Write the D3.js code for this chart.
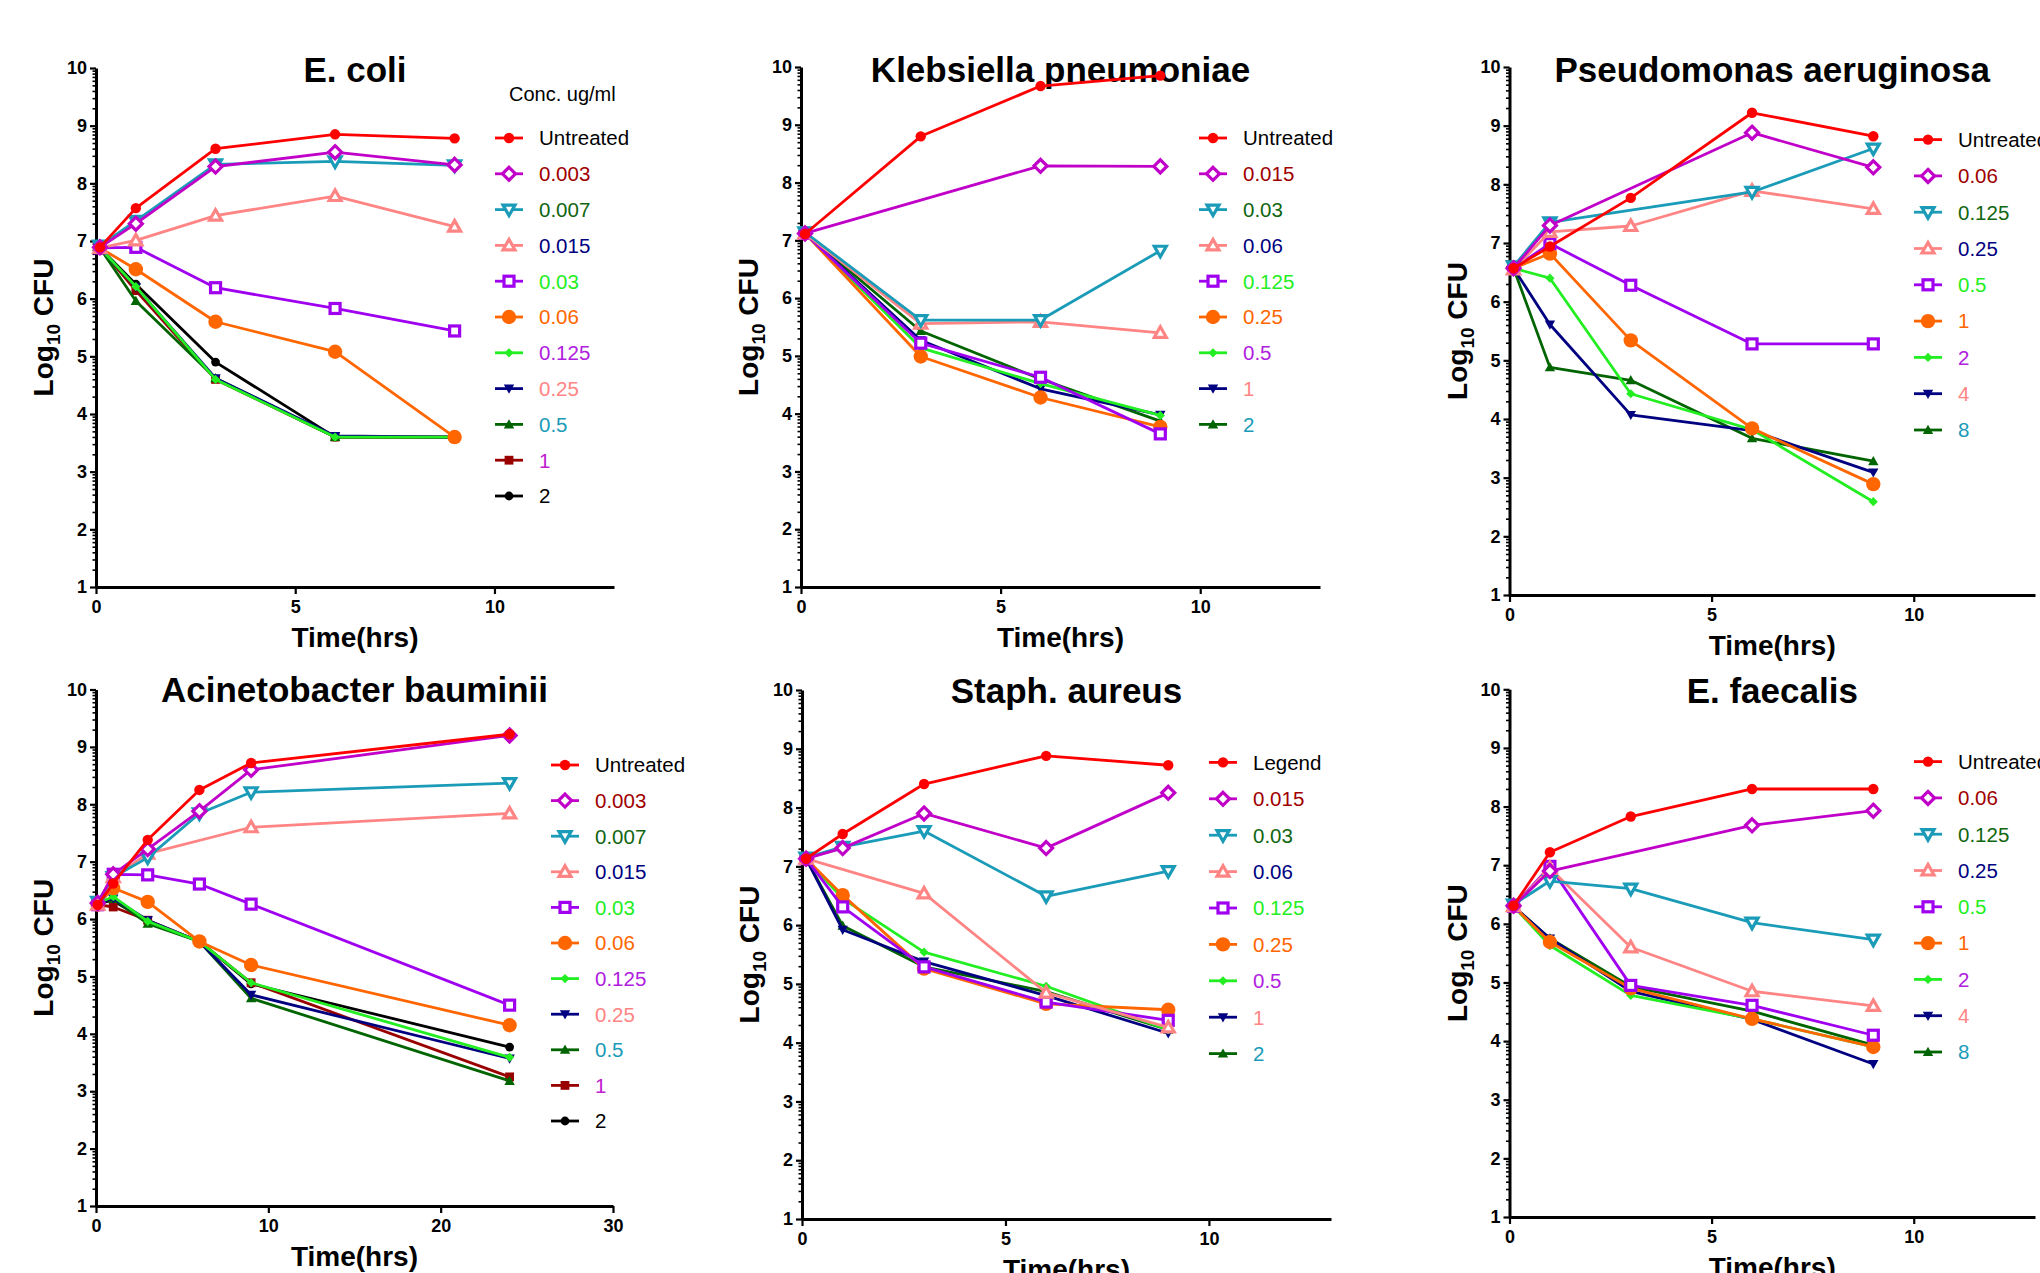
<!DOCTYPE html>
<html>
<head>
<meta charset="utf-8">
<script src="https://cdnjs.cloudflare.com/ajax/libs/d3/7.8.5/d3.min.js"></script>
<style>
  body { margin: 0; background: #fff; }
  svg { display: block; }
  text { font-family: "Liberation Sans", Arial, Helvetica, sans-serif; }
</style>
</head>
<body>
<div id="viz"></div>
<script>

// ---- data ----
var lineColors  = ['#ff0000', '#c000c8', '#1a9bb8', '#ff8585', '#a000f0', '#ff6600', '#22ee22', '#000080', '#006400', '#990000', '#000000'];
var labelColors = ['#000000', '#a00000', '#116611', '#000080', '#22ee22', '#ff6600', '#b020e0', '#ff8585', '#1a9bb8', '#c020d0', '#000000'];
var markers     = ['circle', 'diamondOpen', 'triDownOpen', 'triUpOpen', 'squareOpen', 'circleBig', 'diamondSmall', 'triDown', 'triUp', 'square', 'circleSmall'];

var yTicks = [1, 2, 3, 4, 5, 6, 7, 8, 9, 10];

var ecoliTimes  = [0.1, 1, 3, 6, 9];
var ecoliLabels = ['Untreated', '0.003', '0.007', '0.015', '0.03', '0.06', '0.125', '0.25', '0.5', '1', '2'];
var ecoliValues = [
  [6.89, 7.57, 8.60, 8.85, 8.78],
  [6.89, 7.30, 8.29, 8.54, 8.32],
  [6.92, 7.35, 8.33, 8.38, 8.31],
  [6.88, 7.01, 7.44, 7.78, 7.25],
  [6.88, 6.89, 6.19, 5.83, 5.44],
  [6.88, 6.51, 5.60, 5.08, 3.60],
  [6.88, 6.21, 4.60, 3.60, 3.60],
  [6.88, 6.20, 4.62, 3.62, 3.60],
  [6.88, 5.96, 4.62, 3.60, 3.60],
  [6.88, 6.14, 4.60, 3.60, 3.60],
  [6.88, 6.25, 4.90, 3.60, 3.60]
];

var klebTimes  = [0.1, 3, 6, 9];
var klebLabels = ['Untreated', '0.015', '0.03', '0.06', '0.125', '0.25', '0.5', '1', '2'];
var klebValues = [
  [7.11, 8.80, 9.67, 9.85],
  [7.12, null, 8.29, 8.28],
  [7.14, 5.62, 5.62, 6.82],
  [7.12, 5.56, 5.59, 5.40],
  [7.12, 5.22, 4.63, 3.65],
  [7.12, 4.99, 4.28, 3.77],
  [7.12, 5.14, 4.52, 3.97],
  [7.12, 5.27, 4.43, 3.98],
  [7.12, 5.43, 4.60, 3.87]
];

var pseudoTimes  = [0.1, 1, 3, 6, 9];
var pseudoLabels = ['Untreated', '0.06', '0.125', '0.25', '0.5', '1', '2', '4', '8'];
var pseudoValues = [
  [6.57, 6.94, 7.77, 9.22, 8.82],
  [6.57, 7.30, null, 8.88, 8.29],
  [6.60, 7.35, null, 7.87, 8.61],
  [6.55, 7.19, 7.29, 7.89, 7.58],
  [6.57, 6.99, 6.28, 5.28, 5.28],
  [6.57, 6.82, 5.34, 3.84, 2.89],
  [6.57, 6.40, 4.43, 3.82, 2.59],
  [6.57, 5.61, 4.07, 3.80, 3.09],
  [6.57, 4.88, 4.66, 3.67, 3.28]
];

var acinTimes  = [0.1, 1, 3, 6, 9, 24];
var acinLabels = ['Untreated', '0.003', '0.007', '0.015', '0.03', '0.06', '0.125', '0.25', '0.5', '1', '2'];
var acinValues = [
  [6.25, 6.62, 7.38, 8.25, 8.72, 9.22],
  [6.28, 6.78, 7.22, 7.88, 8.60, 9.20],
  [6.30, 6.73, 7.07, 7.84, 8.21, 8.37],
  [6.25, 6.73, 7.14, null, 7.60, 7.84],
  [6.25, 6.78, 6.77, 6.61, 6.26, 4.50],
  [6.25, 6.54, 6.30, 5.61, 5.20, 4.15],
  [6.28, 6.39, 5.96, 5.61, 4.89, 3.59],
  [6.28, 6.36, 5.98, 5.61, 4.68, 3.57],
  [6.28, 6.35, 5.92, 5.61, 4.62, 3.18],
  [6.25, 6.21, 5.98, 5.61, 4.89, 3.25],
  [6.28, 6.32, 5.96, 5.61, 4.87, 3.77]
];

var staphTimes  = [0.1, 1, 3, 6, 9];
var staphLabels = ['Legend', '0.015', '0.03', '0.06', '0.125', '0.25', '0.5', '1', '2'];
var staphValues = [
  [7.13, 7.55, 8.40, 8.88, 8.72],
  [7.13, 7.31, 7.90, 7.31, 8.25],
  [7.15, 7.33, 7.60, 6.49, 6.92],
  [7.13, null, 6.54, 4.85, 4.26],
  [7.13, 6.31, 5.29, 4.69, 4.38],
  [7.13, 6.51, 5.26, 4.66, 4.56],
  [7.13, 6.45, 5.54, 4.96, 4.22],
  [7.13, 5.92, 5.38, 4.80, 4.16],
  [7.13, 5.99, 5.29, 4.87, 4.22]
];

var faecTimes  = [0.1, 1, 3, 6, 9];
var faecLabels = ['Untreated', '0.06', '0.125', '0.25', '0.5', '1', '2', '4', '8'];
var faecValues = [
  [6.31, 7.22, 7.83, 8.30, 8.30],
  [6.31, 6.90, null, 7.68, 7.93],
  [6.33, 6.73, 6.60, 6.02, 5.73],
  [6.30, 6.95, 5.60, 4.85, 4.60],
  [6.30, 6.98, 4.95, 4.61, 4.10],
  [6.30, 5.69, 4.90, 4.38, 3.90],
  [6.30, 5.63, 4.78, 4.38, 3.90],
  [6.30, 5.75, 4.85, 4.37, 3.61],
  [6.30, 5.75, 4.93, 4.51, 3.93]
];

// ---- layout ----
var panels = [
  {title: 'E. coli', times: ecoliTimes, labels: ecoliLabels, values: ecoliValues,
   x0: 96, x1: 614, top: 68, bottom: 587, xMax: 13, xTicks: [0, 5, 10], titleY: 82,
   legX: 509, legY: 138, legStep: 35.8, heading: 'Conc. ug/ml'},
  {title: 'Klebsiella pneumoniae', times: klebTimes, labels: klebLabels, values: klebValues,
   x0: 801, x1: 1320, top: 67, bottom: 587, xMax: 13, xTicks: [0, 5, 10], titleY: 82,
   legX: 1213, legY: 138, legStep: 35.8},
  {title: 'Pseudomonas aeruginosa', times: pseudoTimes, labels: pseudoLabels, values: pseudoValues,
   x0: 1509.5, x1: 2035, top: 67, bottom: 595, xMax: 13, xTicks: [0, 5, 10], titleY: 82,
   legX: 1928, legY: 139.6, legStep: 36.3},
  {title: 'Acinetobacter bauminii', times: acinTimes, labels: acinLabels, values: acinValues,
   x0: 96, x1: 613, top: 689.5, bottom: 1206, xMax: 30, xTicks: [0, 10, 20, 30], titleY: 702,
   legX: 565, legY: 765, legStep: 35.6},
  {title: 'Staph. aureus', times: staphTimes, labels: staphLabels, values: staphValues,
   x0: 802, x1: 1331, top: 690, bottom: 1219, xMax: 13, xTicks: [0, 5, 10], titleY: 703,
   legX: 1223, legY: 762.4, legStep: 36.4},
  {title: 'E. faecalis', times: faecTimes, labels: faecLabels, values: faecValues,
   x0: 1509.5, x1: 2035, top: 689.3, bottom: 1217, xMax: 13, xTicks: [0, 5, 10], titleY: 703,
   legX: 1928, legY: 761.6, legStep: 36.3}
];

var svg = d3.select('#viz').append('svg')
  .attr('width', 2040)
  .attr('height', 1273);

// minor ticks sit at log10 spacing inside each unit
var minorTicks = [];
yTicks.slice(0, -1).forEach(function(t) {
  for (var k = 2; k <= 9; k++) minorTicks.push(t + Math.log10(k));
});

function marker(g, kind, color) {
  var open = kind.indexOf('Open') > -1;
  var el;
  if (kind == 'circle') el = g.append('circle').attr('r', 5.2);
  else if (kind == 'circleBig') el = g.append('circle').attr('r', 7.2);
  else if (kind == 'circleSmall') el = g.append('circle').attr('r', 4.4);
  else if (kind == 'diamondOpen') el = g.append('path').attr('d', 'M0,-6.5L6.5,0L0,6.5L-6.5,0Z');
  else if (kind == 'diamondSmall') el = g.append('path').attr('d', 'M0,-4.6L4.6,0L0,4.6L-4.6,0Z');
  else if (kind == 'triDownOpen') el = g.append('path').attr('d', 'M-6,-4.5L6,-4.5L0,6Z');
  else if (kind == 'triUpOpen') el = g.append('path').attr('d', 'M-6,4.5L6,4.5L0,-6Z');
  else if (kind == 'triDown') el = g.append('path').attr('d', 'M-5.2,-4L5.2,-4L0,5.2Z');
  else if (kind == 'triUp') el = g.append('path').attr('d', 'M-5.2,4L5.2,4L0,-5.2Z');
  else if (kind == 'squareOpen') el = g.append('rect').attr('x', -5).attr('y', -5).attr('width', 10).attr('height', 10);
  else el = g.append('rect').attr('x', -4.4).attr('y', -4.4).attr('width', 8.8).attr('height', 8.8);

  if (open) {
    el.attr('fill', '#fff').attr('stroke', color).attr('stroke-width', 3.2);
  } else {
    el.attr('fill', color);
  }
}

function drawPanel(p) {
  var xScale = d3.scaleLinear().domain([0, p.xMax]).range([p.x0, p.x1]);
  var yScale = d3.scaleLinear().domain([1, 10]).range([p.bottom, p.top]);
  var g = svg.append('g');

  // title
  g.append('text')
    .attr('x', (p.x0 + p.x1) / 2)
    .attr('y', p.titleY)
    .attr('text-anchor', 'middle')
    .style('font-size', '35px')
    .style('font-weight', 'bold')
    .text(p.title);

  // axes
  var yMinor = g.append('g')
    .attr('transform', 'translate(' + p.x0 + ',0)')
    .call(d3.axisLeft(yScale).tickValues(minorTicks).tickSize(3.5).tickSizeOuter(0).tickFormat(''));
  yMinor.select('.domain').remove();
  yMinor.selectAll('line').attr('stroke-width', 1.6);

  var yGuide = g.append('g')
    .attr('transform', 'translate(' + p.x0 + ',0)')
    .call(d3.axisLeft(yScale).tickValues(yTicks).tickSize(6).tickSizeOuter(0).tickPadding(3));

  var xGuide = g.append('g')
    .attr('transform', 'translate(0,' + p.bottom + ')')
    .call(d3.axisBottom(xScale).tickValues(p.xTicks).tickSize(7).tickSizeOuter(0).tickPadding(6));

  [yGuide, xGuide].forEach(function(ax) {
    ax.select('.domain').attr('stroke-width', 3).attr('stroke', '#000');
    ax.selectAll('.tick line').attr('stroke-width', 2.2);
    ax.selectAll('text')
      .attr('font-family', '"Liberation Sans", Arial, sans-serif')
      .style('font-size', '18px')
      .style('font-weight', 'bold')
      .attr('fill', '#000');
  });

  // axis titles
  var yt = g.append('text')
    .attr('transform', 'translate(' + (p.x0 - 43) + ',' + ((p.top + p.bottom) / 2) + ') rotate(-90)')
    .attr('text-anchor', 'middle')
    .style('font-size', '28px')
    .style('font-weight', 'bold');
  yt.append('tspan').text('Log');
  yt.append('tspan').attr('dy', 7).style('font-size', '19px').text('10');
  yt.append('tspan').attr('dy', -7).text(' CFU');

  g.append('text')
    .attr('x', (p.x0 + p.x1) / 2)
    .attr('y', p.bottom + 60)
    .attr('text-anchor', 'middle')
    .style('font-size', '28px')
    .style('font-weight', 'bold')
    .text('Time(hrs)');

  // series, last one first so the first series stays on top
  var line = d3.line()
    .x(function(d) { return xScale(d.t); })
    .y(function(d) { return yScale(d.v); });

  for (var i = p.values.length - 1; i >= 0; i--) {
    var pts = [];
    p.values[i].forEach(function(v, j) {
      if (v != null) pts.push({t: p.times[j], v: v});
    });
    g.append('path')
      .datum(pts)
      .attr('d', line)
      .attr('fill', 'none')
      .attr('stroke', lineColors[i])
      .attr('stroke-width', 2.8)
      .attr('stroke-linejoin', 'round');
    pts.forEach(function(d) {
      var m = g.append('g').attr('transform', 'translate(' + xScale(d.t) + ',' + yScale(d.v) + ')');
      marker(m, markers[i], lineColors[i]);
    });
  }

  // legend
  if (p.heading) {
    g.append('text')
      .attr('x', p.legX)
      .attr('y', p.legY - 37)
      .style('font-size', '20px')
      .text(p.heading);
  }
  p.labels.forEach(function(lab, i) {
    var ly = p.legY + i * p.legStep;
    g.append('line')
      .attr('x1', p.legX - 14).attr('x2', p.legX + 14)
      .attr('y1', ly).attr('y2', ly)
      .attr('stroke', lineColors[i])
      .attr('stroke-width', 2.8);
    var m = g.append('g').attr('transform', 'translate(' + p.legX + ',' + ly + ')');
    marker(m, markers[i], lineColors[i]);
    g.append('text')
      .attr('x', p.legX + 30)
      .attr('y', ly)
      .attr('dy', '0.36em')
      .style('font-size', '20.5px')
      .attr('fill', labelColors[i])
      .text(lab);
  });
}

panels.forEach(drawPanel);

</script>
</body>
</html>
